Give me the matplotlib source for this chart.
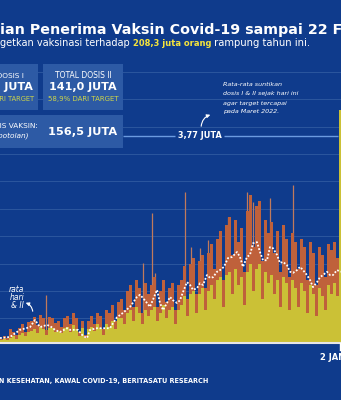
import matplotlib
matplotlib.use("Agg")
import matplotlib.pyplot as plt
from matplotlib.patches import Rectangle, FancyArrowPatch
import numpy as np

# suntikan harian (juta dosis), satu batang tiap 3 hari
dosis1 = [0.05, 0.08, 0.06, 0.10, 0.12, 0.08, 0.15, 0.18, 0.12, 0.20,
          0.22, 0.26, 0.18, 0.30, 0.25, 0.14, 0.27, 0.28, 0.20, 0.22,
          0.18, 0.28, 0.30, 0.20, 0.32, 0.25, 0.12, 0.28, 0.10, 0.25,
          0.30, 0.22, 0.35, 0.28, 0.15, 0.35, 0.30, 0.40, 0.25, 0.45,
          0.45, 0.35, 0.55, 0.60, 0.40, 0.65, 0.55, 0.35, 0.60, 0.50,
          0.60, 0.65, 0.40, 0.55, 0.70, 0.45, 0.60, 0.65, 0.35, 0.60,
          0.70, 0.85, 0.50, 0.90, 0.95, 0.55, 0.90, 1.00, 0.60, 0.95,
          1.05, 0.80, 1.15, 1.20, 0.65, 1.25, 1.30, 0.90, 1.35, 1.05,
          1.20, 0.70, 1.30, 1.45, 0.95, 1.35, 1.45, 0.80, 1.30, 1.10,
          1.25, 0.90, 1.15, 0.65, 1.20, 1.10, 0.60, 1.15, 1.00, 0.65,
          1.10, 0.95, 0.55, 1.05, 0.90, 0.50, 1.00, 0.85, 0.60, 1.05,
          0.90, 1.10, 0.85, 4.25]
total = [0.08, 0.12, 0.10, 0.25, 0.20, 0.14, 0.28, 0.35, 0.20, 0.38,
         0.40, 0.48, 0.32, 0.52, 0.45, 0.24, 0.48, 0.45, 0.36, 0.40,
         0.30, 0.45, 0.50, 0.35, 0.55, 0.45, 0.20, 0.40, 0.15, 0.40,
         0.50, 0.35, 0.55, 0.50, 0.25, 0.60, 0.55, 0.70, 0.40, 0.75,
         0.80, 0.60, 0.95, 1.05, 0.65, 1.15, 1.00, 0.55, 1.10, 0.90,
         1.05, 1.20, 0.65, 0.95, 1.15, 0.75, 1.00, 1.10, 0.60, 1.05,
         1.15, 1.40, 0.80, 1.45, 1.55, 0.90, 1.50, 1.60, 1.00, 1.65,
         1.80, 1.35, 1.90, 2.05, 1.15, 2.15, 2.30, 1.60, 2.25, 1.85,
         2.10, 1.30, 2.40, 2.70, 1.75, 2.50, 2.60, 1.50, 2.25, 2.00,
         2.20, 1.65, 2.05, 1.30, 2.15, 1.90, 1.20, 2.00, 1.85, 1.35,
         1.90, 1.75, 1.15, 1.85, 1.65, 1.05, 1.75, 1.60, 1.20, 1.80,
         1.70, 1.85, 1.55, 4.25]

# lonjakan satu hari
spike_x = [46, 143, 152, 155, 185, 191, 200, 208, 228, 247, 253, 270, 293]
spike_val = [0.87, 1.46, 2.37, 1.28, 2.75, 1.75, 1.73, 1.88, 2.30, 2.75, 2.58, 2.65, 2.88]

# rata-rata 7 hari (juta)
ma_x = [0, 10, 20, 30, 35, 40, 47, 50, 55, 60, 67, 70, 78, 83, 87, 90, 97, 103, 110, 113,
        117, 123, 130, 137, 140, 143, 147, 150, 155, 157, 160, 163, 167, 170, 173, 177, 180, 183, 187, 190,
        193, 197, 200, 203, 207, 210, 213, 217, 220, 224, 228, 232, 237, 240, 243, 247, 250, 253, 257, 260,
        263, 267, 270, 273, 277, 280, 283, 287, 290, 293, 297, 300, 303, 307, 310, 313, 317, 320, 323, 327,
        330, 333, 337, 341]
ma_val = [0.09, 0.11, 0.24, 0.29, 0.42, 0.29, 0.33, 0.31, 0.24, 0.20,
          0.27, 0.24, 0.24, 0.13, 0.09, 0.24, 0.27, 0.27, 0.27, 0.36,
          0.47, 0.55, 0.66, 0.84, 0.88, 0.82, 0.73, 0.66, 0.88, 0.97,
          0.73, 0.60, 0.73, 0.84, 0.78, 0.73, 0.78, 0.93, 1.11, 1.06,
          0.97, 1.00, 1.09, 1.06, 1.24, 1.19, 1.20, 1.30, 1.33, 1.39,
          1.55, 1.57, 1.66, 1.57, 1.39, 1.57, 1.61, 1.82, 1.84, 1.66,
          1.51, 1.51, 1.75, 1.73, 1.61, 1.46, 1.48, 1.42, 1.30, 1.28,
          1.33, 1.39, 1.33, 1.24, 1.15, 1.02, 1.11, 1.20, 1.24, 1.30,
          1.24, 1.24, 1.33, 1.30]

target_harian = 3.77
grid_vals = [0.45, 0.95, 1.45, 1.95, 2.45, 2.95, 3.45, 3.95, 4.45, 4.95]

BG = "#0f3b8c"
BOX = "#2d5aa5"
GRID = "#2b569e"
YEL = "#cbc136"
ORA = "#bf613b"
SPK = "#c07a5c"
FONT = "DejaVu Sans"

W, H = 341, 400
BASE = 343
PX = 54.8   # piksel per juta

fig = plt.figure(figsize=(W / 100, H / 100), dpi=100, facecolor=BG)

ax = fig.add_axes([0, (H - BASE) / H, 1, (BASE - 60) / H])
ax.set_facecolor(BG)
ax.set_xlim(0, W)
ax.set_ylim(0, (BASE - 60) / PX)
ax.axis("off")

for g in grid_vals:
    ax.axhline(g, color=GRID, lw=0.7, zorder=0)

ax.vlines(spike_x, 0, spike_val, color=SPK, lw=0.9, zorder=1)

xs = np.arange(len(dosis1)) * 3 + 1.5
d2 = np.array(total) - np.array(dosis1)
ax.bar(xs, dosis1, width=3, color=YEL, linewidth=0, zorder=2)
ax.bar(xs, d2, bottom=dosis1, width=3, color=ORA, linewidth=0, zorder=2)

ax.plot(ma_x, ma_val, color="white", lw=1.3, ls=(0, (1, 1)), zorder=4)

ax.hlines(target_harian, 123, 175, color="#6b9be0", lw=1.0, zorder=3)
ax.hlines(target_harian, 224, 338, color="#6b9be0", lw=1.0, zorder=3)

# lapisan piksel untuk kotak dan teks
ov = fig.add_axes([0, 0, 1, 1])
ov.set_xlim(0, W)
ov.set_ylim(H, 0)
ov.axis("off")
ov.patch.set_alpha(0)

renderer = fig.canvas.get_renderer()


def txt(x, y, s, size=6, color="white", weight="normal", ha="left", style="normal"):
    return ov.text(x, y, s, fontsize=size, color=color, fontweight=weight, ha=ha,
                   va="center", fontstyle=style, family=FONT)


def fit(t, width):
    w = t.get_window_extent(renderer).width
    t.set_fontsize(t.get_fontsize() * width / w)
    return t


def width(t):
    return t.get_window_extent(renderer).width


ov.plot([0, W], [BASE, BASE], color="#e6e6e6", lw=1.5)
ov.plot([340, 340], [BASE, 350], color="white", lw=1.0)

# judul
t = fit(txt(0, 30, "ian Penerima Vaksin Covid-19 sampai 22", 10, weight="bold"), 328)
t.set_text("ian Penerima Vaksin Covid-19 sampai 22 Februari 2022")

t1 = fit(txt(0, 43, "getkan vaksinasi terhadap ", 6.5), 133)
fs = t1.get_fontsize()
x2 = width(t1)
t2 = fit(txt(x2, 43, "208,3 juta orang", fs, color="#f5e43c", weight="bold"), 78)
x3 = x2 + width(t2)
fit(txt(x3, 43, " rampung tahun ini.", fs), 99)

# kotak ringkasan
ov.add_patch(Rectangle((-38, 64), 76, 46, color=BOX, lw=0))
ov.add_patch(Rectangle((43, 64), 80, 46, color=BOX, lw=0))
ov.add_patch(Rectangle((-38, 115), 161, 33, color=BOX, lw=0))

txt(24, 75.7, "TOTAL DOSIS I", 5.3, ha="right")
txt(33, 87, "189,6 JUTA", 8, weight="bold", ha="right")
txt(34, 99.5, "79,2% DARI TARGET", 4.8, color="#cdd54a", ha="right")

fit(txt(83, 75.7, "TOTAL DOSIS II", 5.3, ha="center"), 57)
fit(txt(83, 87, "141,0 JUTA", 8, weight="bold", ha="center"), 68)
fit(txt(83, 99.5, "58,9% DARI TARGET", 4.8, color="#cdd54a", ha="center"), 70)

txt(38, 126.5, "TOTAL DOSIS VAKSIN:", 5.3, ha="right")
txt(29, 136, "(dalam botolan)", 5.3, ha="right", style="italic")
fit(txt(82.5, 132, "156,5 JUTA", 8, weight="bold", ha="center"), 69)

fit(txt(200, 136, "3,77 JUTA", 6, weight="bold", ha="center"), 44)

lines = ["Rata-rata suntikan", "dosis I & II sejak hari ini", "agar target tercapai", "pada Maret 2022."]
tl = fit(txt(223, 94, lines[1], 5.5, style="italic"), 75)
for s, y in zip([lines[0], lines[2], lines[3]], [85, 103, 112]):
    txt(223, y, s, tl.get_fontsize(), style="italic")
ov.add_patch(FancyArrowPatch((201, 129), (213, 114), connectionstyle="arc3,rad=-0.4",
                             arrowstyle="-|>", mutation_scale=5, color="white", lw=0.8))

for s, y in zip(["rata", "hari", "& II"], [290, 298, 306]):
    txt(24, y, s, 5.5, ha="right", style="italic")
ov.add_patch(FancyArrowPatch((33, 314), (23, 302), connectionstyle="arc3,rad=0.4",
                             arrowstyle="-|>", mutation_scale=5, color="white", lw=0.8))

txt(320, 357, "2 JAN", 6, weight="bold")

src = fit(txt(208, 381.5, "KESEHATAN, KAWAL COVID-19, BERITASATU RESEARCH", 5, weight="bold", ha="right"), 204)
src.set_text("SUMBER: KEMENTERIAN KESEHATAN, KAWAL COVID-19, BERITASATU RESEARCH")

fig.savefig("out.png", dpi=100, facecolor=BG)
